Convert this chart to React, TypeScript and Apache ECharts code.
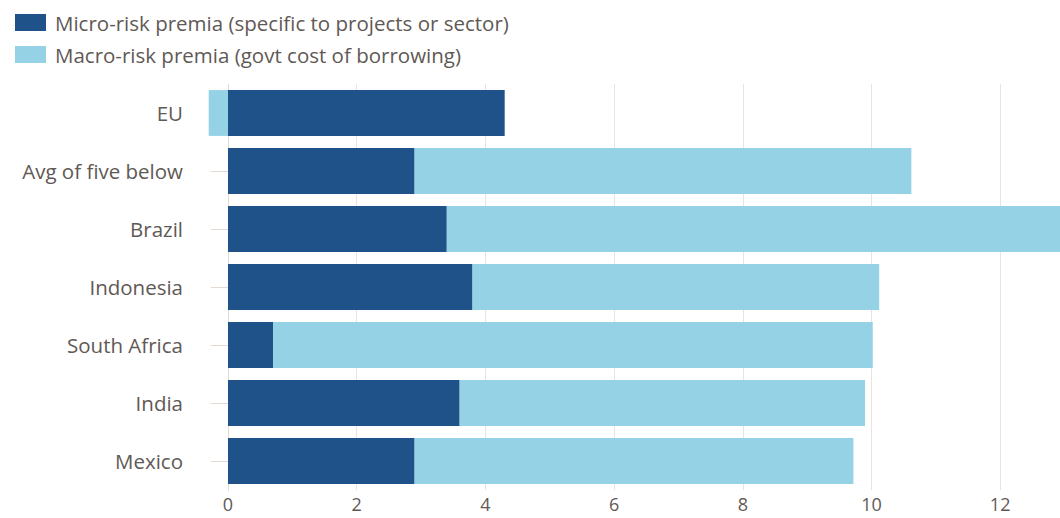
import React, { useEffect, useRef } from "react";
import * as echarts from "echarts";

const categories = ["EU", "Avg of five below", "Brazil", "Indonesia", "South Africa", "India", "Mexico"];
const microRisk = [4.3, 2.9, 3.4, 3.8, 0.7, 3.6, 2.9];
const macroRisk = [-0.3, 7.72, 9.9, 6.32, 9.32, 6.3, 6.82];
const seriesNames = ["Micro-risk premia (specific to projects or sector)", "Macro-risk premia (govt cost of borrowing)"];

const FONT = "'Open Sans', sans-serif";
const TEXT = "#5f5955";
const FS = 20.5;

export default function App() {
  const ref = useRef<HTMLDivElement>(null);
  useEffect(() => {
    if (!ref.current) return;
    const chart = echarts.init(ref.current, undefined, { renderer: "svg" });
    chart.setOption({
      animation: false,
      legend: {
        orient: "vertical",
        left: 10,
        top: 7,
        itemWidth: 31,
        itemHeight: 17,
        itemGap: 11,
        icon: "rect",
        textStyle: { color: TEXT, fontSize: FS, fontFamily: FONT, padding: [0, 0, 0, 4] },
        data: seriesNames,
      },
      grid: { left: 228, right: 0, top: 84, bottom: 28, containLabel: false },
      xAxis: {
        type: "value",
        min: 0,
        max: 12.93,
        interval: 2,
        axisLine: { show: false },
        axisTick: { show: false },
        axisLabel: { color: TEXT, fontSize: 18, fontFamily: FONT, margin: 5, showMaxLabel: false },
        splitLine: { show: true, lineStyle: { color: "#ebe3de", width: 1 } },
      },
      yAxis: {
        type: "category",
        inverse: true,
        data: categories,
        offset: 20,
        axisLine: { show: true, lineStyle: { color: "#e3d9d3", width: 1 } },
        axisTick: { show: true, length: 17, alignWithLabel: true, lineStyle: { color: "#e3d9d3" } },
        axisLabel: { color: TEXT, fontSize: FS, fontFamily: FONT, margin: 25 },
      },
      series: [
        {
          name: seriesNames[0],
          type: "bar",
          stack: "total",
          data: microRisk,
          barCategoryGap: "21%",
          clip: false,
          itemStyle: { color: "#1f5289" },
        },
        {
          name: seriesNames[1],
          type: "bar",
          stack: "total",
          data: macroRisk,
          barCategoryGap: "21%",
          clip: false,
          itemStyle: { color: "#96d2e5" },
        },
      ],
    });
    return () => chart.dispose();
  }, []);
  return <div ref={ref} style={{ width: 1060, height: 518, position: "absolute", left: 0, top: 0 }} />;
}
